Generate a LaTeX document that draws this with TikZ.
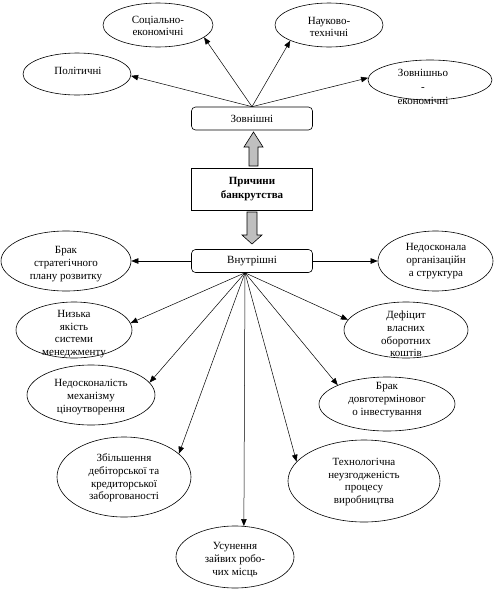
\documentclass[tikz,border=0pt]{standalone}
\usepackage{fontspec}
\setmainfont{Liberation Serif}
\usetikzlibrary{shapes.geometric,arrows.meta}
\begin{document}
\begin{tikzpicture}[x=1pt,y=-1pt,
  every node/.style={font=\fontsize{11}{12.6}\selectfont, align=center, inner sep=0pt},
  ell/.style={draw, ellipse, line width=0.6pt},
  rbox/.style={draw, rounded corners=4pt, minimum width=121pt, minimum height=23pt, line width=0.6pt},
  arr/.style={-{Triangle[length=7pt,width=5.5pt]}, line width=0.5pt},
  blk/.style={draw, fill=gray!50, line width=0.6pt}]
\useasboundingbox (0,0) rectangle (494,590);

% external factors
\node[ell, minimum width=110pt, minimum height=44pt] (soc) at (158,25) {};
\node (soct) at (158,26) {Соціально-\\економічні};
\node[ell, minimum width=108pt, minimum height=44pt] (nauk) at (329,25) {};
\node (naukt) at (329,27) {Науково-\\технічні};
\node[ell, minimum width=108pt, minimum height=42pt] (pol) at (77,74) {};
\node (polt) at (78,71) {Політичні};
\node[ell, minimum width=124pt, minimum height=40pt] (zek) at (430,80) {};
\node[font=\fontsize{11}{14}\selectfont] (zekt) at (423,87) {Зовнішньо\\-\\економічні};

% central boxes
\node[rbox] (zv) at (252,118.5) {Зовнішні};
\node[draw, minimum width=121pt, minimum height=42pt, line width=0.6pt,
      font=\fontsize{11}{14}\selectfont\bfseries] (pr) at (252,189) {Причини\\банкрутства};
\node[rbox] (vn) at (252,261) {Внутрішні};

% block arrows
\draw[blk] (249,166) -- (249,147) -- (244,147) -- (253.5,132) -- (263,147) -- (258,147) -- (258,166) -- cycle;
\draw[blk] (247,212) -- (257,212) -- (257,235) -- (262,235) -- (252,244) -- (242,235) -- (247,235) -- cycle;

% internal factors
\node[ell, minimum width=130pt, minimum height=60pt] (br1) at (66,261) {};
\node (br1t) at (66,264) {Брак\\стратегічного\\плану розвитку};
\node[ell, minimum width=115pt, minimum height=60pt] (ned) at (435.5,261) {};
\node (nedt) at (436,261) {Недосконала\\організаційн\\а структура};
\node[ell, minimum width=116pt, minimum height=56pt] (nyz) at (74,330) {};
\node (nyzt) at (74,334) {Низька\\якість\\системи\\менеджменту};
\node[ell, minimum width=124pt, minimum height=56pt] (def) at (406,330) {};
\node (deft) at (406,334) {Дефіцит\\власних\\оборотних\\коштів};
\node[ell, minimum width=128pt, minimum height=60pt] (nmc) at (91,395) {};
\node (nmct) at (91,397) {Недосконалість\\механізму\\ціноутворення};
\node[ell, minimum width=136pt, minimum height=54pt] (br2) at (387,404) {};
\node (br2t) at (387,400) {Брак\\довготерміновог\\о інвестування};
\node[ell, minimum width=134pt, minimum height=80pt] (zb) at (124,477) {};
\node (zbt) at (124,478) {Збільшення\\дебіторської та\\кредиторської\\заборгованості};
\node[ell, minimum width=152pt, minimum height=82pt] (tech) at (364,481) {};
\node (techt) at (364,482) {Технологічна\\неузгодженість\\процесу\\виробництва};
\node[ell, minimum width=118pt, minimum height=62pt] (us) at (235,557) {};
\node (ust) at (235,560) {Усунення\\зайвих робо-\\чих місць};

% connectors from Зовнішні
\draw[arr] (zv.north) -- (pol.-2);
\draw[arr] (zv.north) -- (soc.-15);
\draw[arr] (zv.north) -- (nauk.-158);
\draw[arr] (zv.north) -- (zek.178);

% connectors from Внутрішні
\coordinate (vo) at ([xshift=-7pt]vn.south);
\draw[arr] (vn.west) -- (br1.east);
\draw[arr] (vn.east) -- (ned.west);
\draw[arr] (vo) -- (nyz.7);
\draw[arr] (vo) -- (nmc.12);
\draw[arr] (vo) -- (zb.23);
\draw[arr] (vo) -- (us.74);
\draw[arr] (vo) -- (tech.164);
\draw[arr] (vo) -- (br2.159);
\draw[arr] (vo) -- (def.170);
\end{tikzpicture}
\end{document}
